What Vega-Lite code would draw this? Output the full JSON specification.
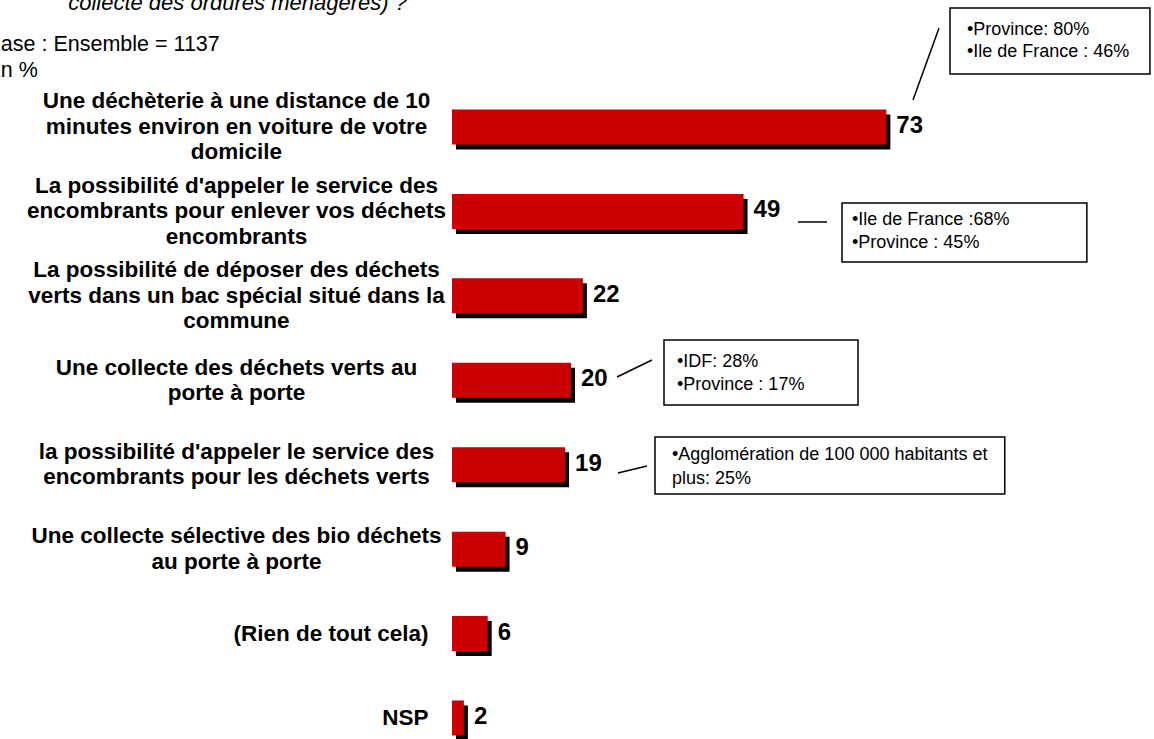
{
  "$schema": "https://vega.github.io/schema/vega-lite/v6.json",
  "autosize": "none",
  "width": 595,
  "height": 654,
  "padding": {"left": 452, "top": 85, "right": 107, "bottom": 0},
  "background": "white",
  "config": {"view": {"stroke": null}},
  "layer": [
    {
      "data": {
        "values": [
          {"label": "Une déchèterie à une distance de 10|minutes environ en voiture de votre|domicile", "value": 73},
          {"label": "La possibilité d'appeler le service des|encombrants pour enlever vos déchets|encombrants", "value": 49},
          {"label": "La possibilité de déposer des déchets|verts dans un bac spécial situé dans la|commune", "value": 22},
          {"label": "Une collecte des déchets verts au|porte à porte", "value": 20},
          {"label": "la possibilité d'appeler le service des|encombrants pour les déchets verts", "value": 19},
          {"label": "Une collecte sélective des bio déchets|au porte à porte", "value": 9},
          {"label": "(Rien de tout cela)", "value": 6},
          {"label": "NSP", "value": 2}
        ]
      },
      "encoding": {
        "y": {
          "field": "label",
          "type": "nominal",
          "sort": null,
          "scale": {"paddingInner": 0.5855, "paddingOuter": 0.1658, "align": 0.875},
          "axis": {
            "title": ["Base : Ensemble = 1137", "En %"],
            "titleAngle": 0,
            "titleAlign": "left",
            "titleBaseline": "alphabetic",
            "titleX": -466,
            "titleY": -35,
            "titleFont": "Liberation Sans",
            "titleFontSize": 21.5,
            "titleFontWeight": "normal",
            "titleColor": "black",
            "titleLineHeight": 26,
            "domain": false,
            "ticks": false,
            "grid": false,
            "labelExpr": "split(datum.label, '|')",
            "labelFont": "Liberation Sans",
            "labelFontSize": 22.5,
            "labelFontWeight": "bold",
            "labelColor": "black",
            "labelLineHeight": 25.5,
            "labelLimit": 1000,
            "labelOverlap": false,
            "labelBaseline": "middle",
            "labelAlign": {"condition": {"test": "indexof(datum.value, '|') >= 0", "value": "center"}, "value": "right"},
            "labelPadding": {"condition": {"test": "indexof(datum.value, '|') >= 0", "value": 216}, "value": 24},
            "labelOffset": {
              "condition": [
                {"test": "length(split(datum.value, '|')) == 3", "value": -25.5},
                {"test": "length(split(datum.value, '|')) == 2", "value": -12.75}
              ],
              "value": 0
            }
          }
        },
        "x": {
          "field": "value",
          "type": "quantitative",
          "scale": {"domain": [0, 100]},
          "axis": {
            "orient": "top",
            "title": "collecte des ordures ménagères) ?",
            "titleX": -215,
            "titleY": -76,
            "titleAlign": "center",
            "titleAngle": 0,
            "titleBaseline": "alphabetic",
            "titleFont": "Liberation Sans",
            "titleFontSize": 22,
            "titleFontStyle": "italic",
            "titleFontWeight": "normal",
            "titleColor": "black",
            "labels": false,
            "ticks": false,
            "domain": false,
            "grid": false
          }
        }
      },
      "layer": [
        {"mark": {"type": "bar", "color": "black", "xOffset": 4, "x2Offset": 4, "yOffset": 5, "y2Offset": 5}},
        {"mark": {"type": "bar", "color": "#CC0000"}},
        {
          "mark": {"type": "text", "align": "left", "baseline": "middle", "dx": 10, "dy": -1, "font": "Liberation Sans", "fontSize": 24, "fontWeight": "bold", "color": "black"},
          "encoding": {"text": {"field": "value", "type": "quantitative"}}
        }
      ]
    },
    {
      "data": {"values": [{}]},
      "layer": [
        {
          "mark": {"type": "rect", "fill": "white", "stroke": "black", "strokeWidth": 1.5},
          "encoding": {
            "x": {"datum": 83.7, "type": "quantitative", "scale": {"domain": [0, 100]}},
            "x2": {"datum": 117.3},
            "y": {"datum": -0.409, "type": "quantitative", "scale": {"domain": [0.5026, 8.2486], "reverse": true, "nice": false, "zero": false}, "axis": null},
            "y2": {"datum": 0.372}
          }
        },
        {
          "mark": {"type": "text", "text": ["•Province: 80%", "•Ile de France : 46%"], "align": "left", "baseline": "top", "lineHeight": 22, "font": "Liberation Sans", "fontSize": 18, "color": "black"},
          "encoding": {
            "x": {"datum": 86.55, "type": "quantitative", "scale": {"domain": [0, 100]}},
            "y": {"datum": -0.258, "type": "quantitative", "scale": {"domain": [0.5026, 8.2486], "reverse": true, "nice": false, "zero": false}, "axis": null}
          }
        },
        {
          "mark": {"type": "rule", "color": "black", "strokeWidth": 1.5},
          "encoding": {
            "x": {"datum": 77.48, "type": "quantitative", "scale": {"domain": [0, 100]}},
            "x2": {"datum": 81.85},
            "y": {"datum": 0.68, "type": "quantitative", "scale": {"domain": [0.5026, 8.2486], "reverse": true, "nice": false, "zero": false}, "axis": null},
            "y2": {"datum": -0.1726}
          }
        },
        {
          "mark": {"type": "rect", "fill": "white", "stroke": "black", "strokeWidth": 1.5},
          "encoding": {
            "x": {"datum": 65.55, "type": "quantitative", "scale": {"domain": [0, 100]}},
            "x2": {"datum": 106.7},
            "y": {"datum": 1.9, "type": "quantitative", "scale": {"domain": [0.5026, 8.2486], "reverse": true, "nice": false, "zero": false}, "axis": null},
            "y2": {"datum": 2.599}
          }
        },
        {
          "mark": {"type": "text", "text": ["•Ile de France :68%", "•Province : 45%"], "align": "left", "baseline": "top", "lineHeight": 23, "font": "Liberation Sans", "fontSize": 18, "color": "black"},
          "encoding": {
            "x": {"datum": 67.23, "type": "quantitative", "scale": {"domain": [0, 100]}},
            "y": {"datum": 1.9925, "type": "quantitative", "scale": {"domain": [0.5026, 8.2486], "reverse": true, "nice": false, "zero": false}, "axis": null}
          }
        },
        {
          "mark": {"type": "rule", "color": "black", "strokeWidth": 1.5},
          "encoding": {
            "x": {"datum": 58.15, "type": "quantitative", "scale": {"domain": [0, 100]}},
            "x2": {"datum": 63.03},
            "y": {"datum": 2.125, "type": "quantitative", "scale": {"domain": [0.5026, 8.2486], "reverse": true, "nice": false, "zero": false}, "axis": null},
            "y2": {"datum": 2.125}
          }
        },
        {
          "mark": {"type": "rect", "fill": "white", "stroke": "black", "strokeWidth": 1.5},
          "encoding": {
            "x": {"datum": 35.63, "type": "quantitative", "scale": {"domain": [0, 100]}},
            "x2": {"datum": 68.24},
            "y": {"datum": 3.523, "type": "quantitative", "scale": {"domain": [0.5026, 8.2486], "reverse": true, "nice": false, "zero": false}, "axis": null},
            "y2": {"datum": 4.293}
          }
        },
        {
          "mark": {"type": "text", "text": ["•IDF: 28%", "•Province : 17%"], "align": "left", "baseline": "top", "lineHeight": 23, "font": "Liberation Sans", "fontSize": 18, "color": "black"},
          "encoding": {
            "x": {"datum": 37.82, "type": "quantitative", "scale": {"domain": [0, 100]}},
            "y": {"datum": 3.674, "type": "quantitative", "scale": {"domain": [0.5026, 8.2486], "reverse": true, "nice": false, "zero": false}, "axis": null}
          }
        },
        {
          "mark": {"type": "rule", "color": "black", "strokeWidth": 1.5},
          "encoding": {
            "x": {"datum": 27.73, "type": "quantitative", "scale": {"domain": [0, 100]}},
            "x2": {"datum": 33.61},
            "y": {"datum": 3.961, "type": "quantitative", "scale": {"domain": [0.5026, 8.2486], "reverse": true, "nice": false, "zero": false}, "axis": null},
            "y2": {"datum": 3.76}
          }
        },
        {
          "mark": {"type": "rect", "fill": "white", "stroke": "black", "strokeWidth": 1.5},
          "encoding": {
            "x": {"datum": 34.12, "type": "quantitative", "scale": {"domain": [0, 100]}},
            "x2": {"datum": 92.9},
            "y": {"datum": 4.672, "type": "quantitative", "scale": {"domain": [0.5026, 8.2486], "reverse": true, "nice": false, "zero": false}, "axis": null},
            "y2": {"datum": 5.347}
          }
        },
        {
          "mark": {"type": "text", "text": ["•Agglomération de 100 000 habitants et", "plus: 25%"], "align": "left", "baseline": "top", "lineHeight": 24, "font": "Liberation Sans", "fontSize": 18, "color": "black"},
          "encoding": {
            "x": {"datum": 36.97, "type": "quantitative", "scale": {"domain": [0, 100]}},
            "y": {"datum": 4.776, "type": "quantitative", "scale": {"domain": [0.5026, 8.2486], "reverse": true, "nice": false, "zero": false}, "axis": null}
          }
        },
        {
          "mark": {"type": "rule", "color": "black", "strokeWidth": 1.5},
          "encoding": {
            "x": {"datum": 27.9, "type": "quantitative", "scale": {"domain": [0, 100]}},
            "x2": {"datum": 32.77},
            "y": {"datum": 5.098, "type": "quantitative", "scale": {"domain": [0.5026, 8.2486], "reverse": true, "nice": false, "zero": false}, "axis": null},
            "y2": {"datum": 5.015}
          }
        }
      ]
    }
  ],
  "resolve": {"scale": {"y": "independent"}}
}
